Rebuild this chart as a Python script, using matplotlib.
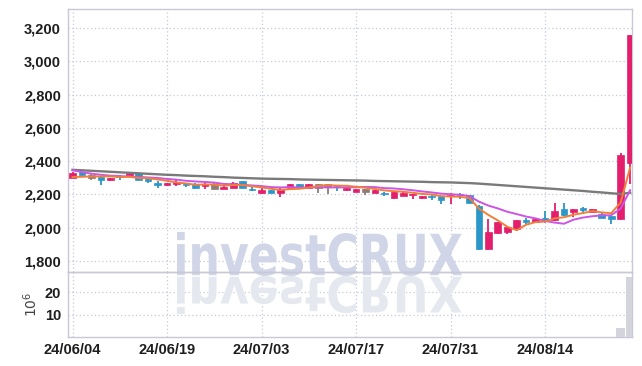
import matplotlib
matplotlib.use('Agg')
import matplotlib.pyplot as plt
import numpy as np
from matplotlib.textpath import TextPath
from matplotlib.patches import PathPatch
from matplotlib.font_manager import FontProperties
from matplotlib.transforms import Affine2D
from matplotlib.ticker import FuncFormatter

plt.rcParams['font.family'] = ['Liberation Sans Narrow', 'Liberation Sans', 'DejaVu Sans']

# 거래일
dates = ['24/06/04', '24/06/05', '24/06/07', '24/06/10', '24/06/11', '24/06/12', '24/06/13', '24/06/14',
         '24/06/17', '24/06/18', '24/06/19', '24/06/20', '24/06/21', '24/06/24', '24/06/25', '24/06/26',
         '24/06/27', '24/06/28', '24/07/01', '24/07/02', '24/07/03', '24/07/04', '24/07/05', '24/07/08',
         '24/07/09', '24/07/10', '24/07/11', '24/07/12', '24/07/15', '24/07/16', '24/07/17', '24/07/18',
         '24/07/19', '24/07/22', '24/07/23', '24/07/24', '24/07/25', '24/07/26', '24/07/29', '24/07/30',
         '24/07/31', '24/08/01', '24/08/02', '24/08/05', '24/08/06', '24/08/07', '24/08/08', '24/08/09',
         '24/08/12', '24/08/13', '24/08/14', '24/08/16', '24/08/19', '24/08/20', '24/08/21', '24/08/22',
         '24/08/23', '24/08/26', '24/08/27', '24/08/28']

open_ = [2300, 2333, 2298, 2304, 2284, 2306, 2308, 2326, 2290, 2266, 2254, 2262, 2258, 2264, 2250,
         2234, 2234, 2238, 2278, 2234, 2210, 2224, 2210, 2240, 2260, 2240, 2236, 2244, 2248, 2224,
         2216, 2216, 2210, 2210, 2176, 2190, 2194, 2176, 2190, 2190, 2190, 2200, 2194, 2130, 1870,
         1966, 1974, 1994, 2044, 2034, 2054, 2044, 2110, 2094, 2116, 2096, 2084, 2070, 2050, 2390]
high = [2332, 2336, 2322, 2306, 2298, 2318, 2328, 2330, 2292, 2282, 2268, 2284, 2266, 2266, 2270,
        2266, 2270, 2272, 2282, 2242, 2238, 2226, 2236, 2264, 2264, 2262, 2262, 2262, 2250, 2238,
        2232, 2232, 2226, 2214, 2216, 2212, 2202, 2192, 2196, 2192, 2210, 2206, 2198, 2134, 2054,
        2036, 2006, 2046, 2058, 2056, 2100, 2150, 2150, 2112, 2124, 2114, 2086, 2072, 2450, 3160]
low = [2298, 2312, 2285, 2258, 2280, 2284, 2306, 2284, 2270, 2240, 2250, 2250, 2246, 2230, 2234,
       2232, 2232, 2236, 2236, 2222, 2200, 2206, 2186, 2238, 2232, 2238, 2206, 2204, 2218, 2220,
       2212, 2196, 2206, 2190, 2170, 2188, 2170, 2174, 2166, 2140, 2140, 2172, 2146, 1866, 1866,
       1964, 1964, 1992, 2024, 2032, 2026, 2042, 2072, 2066, 2084, 2094, 2058, 2020, 2048, 2260]
close = [2328, 2318, 2318, 2284, 2296, 2304, 2326, 2286, 2278, 2254, 2266, 2276, 2254, 2238, 2264,
         2264, 2246, 2270, 2238, 2226, 2228, 2210, 2234, 2260, 2240, 2260, 2260, 2260, 2244, 2236,
         2230, 2230, 2224, 2200, 2214, 2210, 2200, 2190, 2184, 2166, 2196, 2194, 2150, 1870, 1974,
         2034, 2004, 2044, 2036, 2054, 2048, 2100, 2076, 2110, 2104, 2110, 2060, 2050, 2434, 3158]

# 이동평균선
ma5 = [2304, 2306, 2308, 2308, 2309, 2304, 2306, 2299, 2298, 2290, 2282, 2272, 2266, 2258, 2260,
       2259, 2253, 2256, 2256, 2249, 2242, 2234, 2227, 2232, 2234, 2241, 2251, 2256, 2253, 2252,
       2246, 2240, 2233, 2224, 2220, 2216, 2210, 2203, 2200, 2190, 2187, 2186, 2178, 2115, 2077,
       2044, 2006, 1985, 2018, 2034, 2037, 2056, 2063, 2078, 2088, 2100, 2092, 2087, 2152, 2362]
ma10 = [2345, 2335, 2325, 2318, 2313, 2310, 2308, 2305, 2302, 2299, 2293, 2289, 2282, 2278, 2275,
        2271, 2263, 2261, 2257, 2254, 2250, 2244, 2242, 2244, 2242, 2241, 2243, 2242, 2242, 2243,
        2243, 2245, 2244, 2238, 2236, 2231, 2225, 2218, 2212, 2205, 2201, 2198, 2190, 2157, 2133,
        2116, 2096, 2082, 2067, 2056, 2041, 2031, 2024, 2048, 2061, 2069, 2074, 2075, 2115, 2225]
ma_long = [2348, 2345, 2342, 2339, 2336, 2333, 2330, 2327, 2324, 2321, 2318, 2316, 2313, 2311, 2309,
           2306, 2304, 2301, 2299, 2297, 2295, 2294, 2293, 2292, 2290, 2289, 2288, 2287, 2286, 2285,
           2284, 2283, 2281, 2280, 2279, 2278, 2277, 2276, 2274, 2273, 2272, 2270, 2268, 2265, 2261,
           2257, 2253, 2249, 2245, 2241, 2237, 2233, 2229, 2225, 2221, 2216, 2212, 2207, 2203, 2210]

# 거래량 (백만주)
volume = [0.05, 0.04, 0.04, 0.05, 0.04, 0.03, 0.04, 0.05, 0.04, 0.05, 0.04, 0.04, 0.03, 0.04, 0.05,
          0.03, 0.04, 0.04, 0.05, 0.03, 0.04, 0.03, 0.04, 0.05, 0.04, 0.04, 0.03, 0.04, 0.03, 0.03,
          0.04, 0.03, 0.03, 0.04, 0.05, 0.03, 0.03, 0.04, 0.03, 0.05, 0.05, 0.04, 0.05, 0.1, 0.08,
          0.07, 0.05, 0.06, 0.05, 0.05, 0.06, 0.07, 0.06, 0.05, 0.05, 0.05, 0.05, 0.07, 4.2, 26.7]

UP = '#e31f6d'
DOWN = '#2b96c8'
FLAT = '#8e7c76'
GRID = '#c5c9dc'
FRAME = '#c8c8d6'

x = np.arange(len(close))
o = np.array(open_, float)
c = np.array(close, float)
prev = np.concatenate([[np.nan], c[:-1]])
cols = []
for i in range(len(c)):
    if c[i] == prev[i]:
        cols.append(FLAT)
    elif c[i] > o[i]:
        cols.append(UP)
    else:
        cols.append(DOWN)

fig = plt.figure(figsize=(6.42, 3.66), dpi=100)
ax = fig.add_axes([68/642, 1-272/366, 564/642, 263/366], facecolor='none')
axv = fig.add_axes([68/642, 1-337/366, 564/642, 65/366], facecolor='none', sharex=ax)

# 캔들
ax.vlines(x, low, high, colors=cols, lw=1.3, zorder=3)
body = np.maximum(np.abs(c - o), 8)
ax.bar(x, body, bottom=np.minimum(o, c), width=0.7, color=cols, edgecolor=cols, lw=0.5, zorder=4)

ax.plot(x, ma_long, color='#7a7a7a', lw=1.7, zorder=5)
ax.plot(x, ma10, color='#cc55e6', lw=1.4, zorder=5)
ax.plot(x, ma5, color='#f07f3c', lw=1.4, zorder=6)

axv.bar(x, volume, width=0.95, color='#d4d4dc', edgecolor='#b9b9c6', lw=0.0, zorder=3)

ax.set_xlim(-0.48, 59.2)
ax.set_ylim(1734, 3314)
axv.set_ylim(0, 29.1)
ax.set_yticks([1800, 2000, 2200, 2400, 2600, 2800, 3000, 3200])
ax.yaxis.set_major_formatter(FuncFormatter(lambda v, p: f'{v:,.0f}'))
axv.set_yticks([10, 20])
ticks = x[::10]
axv.set_xticks(ticks)
axv.set_xticklabels([dates[i] for i in ticks])
ax.tick_params(axis='x', labelbottom=False)

for a in (ax, axv):
    a.set_axisbelow(True)
    a.grid(True, color=GRID, lw=0.9, ls=(0, (1, 2)))
    a.tick_params(length=0, labelsize=10.5, colors='#1e1e1e')
    a.tick_params(axis='y', pad=5)
    a.tick_params(axis='x', pad=4)
    for s in a.spines.values():
        s.set_color(FRAME)
        s.set_linewidth(1)
    for lab in a.get_xticklabels() + a.get_yticklabels():
        lab.set_fontweight('bold')

axv.text(-0.067, 0.5, r'$10^6$', transform=axv.transAxes, rotation=90,
         ha='center', va='center', fontsize=10, color='#444444', family='DejaVu Sans')

# 워터마크
tp = TextPath((0, 0), 'investCRUX', prop=FontProperties(family='DejaVu Sans', weight='bold'), size=1)
ext = tp.get_extents()
w, h = ext.width, ext.height
main_tr = Affine2D().translate(-ext.x0, -ext.y0).scale(285/w, 44/h).translate(177, 366-276)
refl_tr = Affine2D().translate(-ext.x0, -ext.y0).scale(285/w, -38/h).translate(177, 366-276)
ax.add_artist(PathPatch(tp, transform=main_tr, facecolor='#d0d6e7', edgecolor='none',
                        zorder=1, clip_on=False))
axv.add_artist(PathPatch(tp, transform=refl_tr, facecolor='#e6e8f0', edgecolor='none',
                         zorder=1, clip_on=False))

fig.savefig('out.png', dpi=100, facecolor='white')
